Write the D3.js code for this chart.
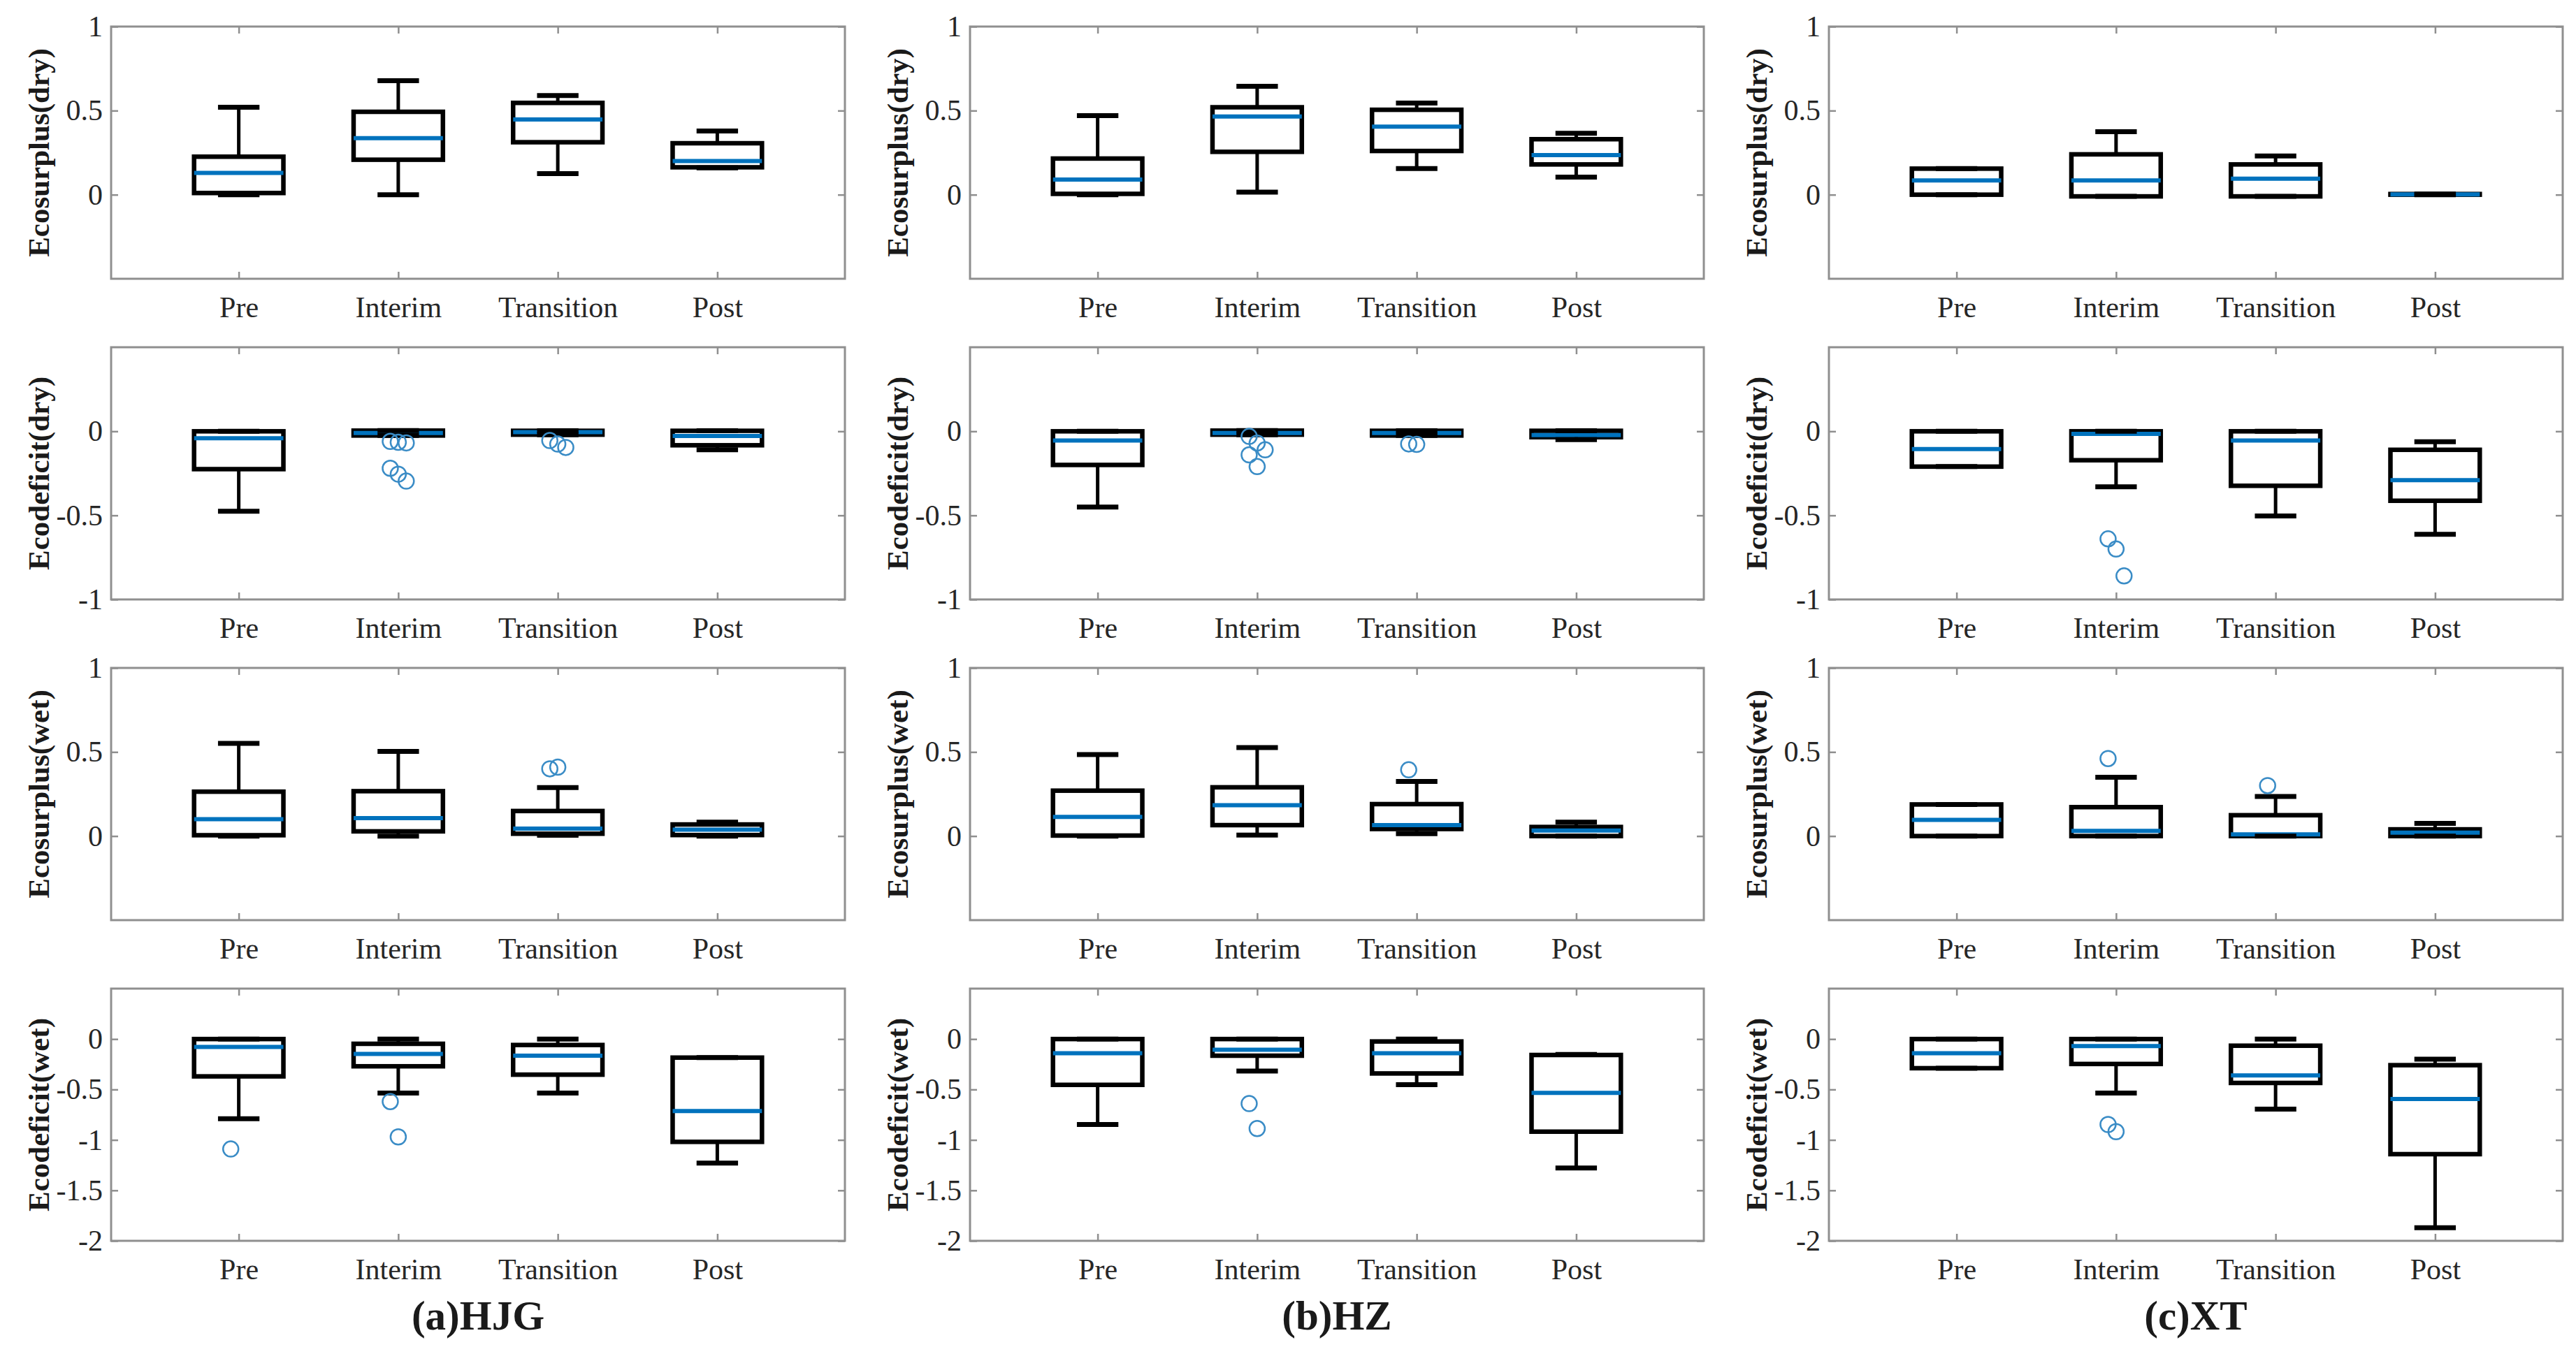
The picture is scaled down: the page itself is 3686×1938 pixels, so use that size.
<!DOCTYPE html>
<html>
<head>
<meta charset="utf-8">
<script src="https://cdn.jsdelivr.net/npm/d3@7"></script>
<style>
  body { margin: 0; background: #fff; }
  text { font-family: "Liberation Serif", "Times New Roman", serif; }
</style>
</head>
<body>
<div id="chart"></div>
<script>
// categories, rows and sites
const categories = ["Pre", "Interim", "Transition", "Post"];
const sites = ["(a)HJG", "(b)HZ", "(c)XT"];
const rowLabels = ["Ecosurplus(dry)", "Ecodeficit(dry)", "Ecosurplus(wet)", "Ecodeficit(wet)"];
const rowDomains = [[-0.5, 1], [-1, 0.5], [-0.5, 1], [-2, 0.5]];
const rowTicks = [[0, 0.5, 1], [-1, -0.5, 0], [0, 0.5, 1], [-2, -1.5, -1, -0.5, 0]];

// box stats per category: [lower whisker, q1, median, q3, upper whisker]
const hjgSurplusDry = [[0, 0.01, 0.13, 0.226, 0.52], [0, 0.208, 0.336, 0.493, 0.678],
                       [0.125, 0.312, 0.447, 0.546, 0.59], [0.16, 0.163, 0.20, 0.306, 0.379]];
const hjgDeficitDry = [[-0.475, -0.225, -0.041, 0, 0], [-0.025, -0.025, -0.01, 0.004, 0.004],
                       [-0.02, -0.02, -0.005, 0.003, 0.003], [-0.11, -0.083, -0.028, 0.003, 0.003]];
const hjgSurplusWet = [[0, 0.005, 0.10, 0.264, 0.551], [0, 0.028, 0.107, 0.267, 0.503],
                       [0.005, 0.014, 0.044, 0.149, 0.288], [0, 0.006, 0.038, 0.069, 0.083]];
const hjgDeficitWet = [[-0.79, -0.37, -0.078, 0, 0], [-0.536, -0.27, -0.148, -0.047, 0],
                       [-0.536, -0.353, -0.165, -0.059, 0], [-1.23, -1.019, -0.713, -0.184, -0.184]];

const hzSurplusDry = [[0, 0.005, 0.09, 0.215, 0.47], [0.015, 0.255, 0.465, 0.52, 0.645],
                      [0.155, 0.26, 0.405, 0.505, 0.545], [0.105, 0.18, 0.235, 0.33, 0.365]];
const hzDeficitDry = [[-0.45, -0.2, -0.055, 0, 0], [-0.02, -0.02, -0.01, 0.004, 0.004],
                      [-0.025, -0.025, -0.01, 0.003, 0.003], [-0.05, -0.035, -0.023, 0.003, 0.003]];
const hzSurplusWet = [[0, 0.003, 0.114, 0.27, 0.485], [0.006, 0.065, 0.183, 0.29, 0.526],
                      [0.014, 0.042, 0.065, 0.19, 0.325], [0, 0, 0.033, 0.054, 0.083]];
const hzDeficitWet = [[-0.847, -0.454, -0.141, 0, 0], [-0.318, -0.165, -0.106, 0, 0],
                      [-0.452, -0.341, -0.141, -0.024, 0], [-1.278, -0.918, -0.534, -0.158, -0.153]];

const xtSurplusDry = [[0, 0, 0.085, 0.155, 0.155], [-0.01, -0.01, 0.085, 0.24, 0.375],
                      [-0.01, -0.01, 0.095, 0.18, 0.23], [0, 0, 0.002, 0.004, 0.004]];
const xtDeficitDry = [[-0.21, -0.21, -0.106, 0, 0], [-0.33, -0.172, -0.015, 0, 0],
                      [-0.503, -0.324, -0.055, 0, 0], [-0.613, -0.413, -0.29, -0.11, -0.062]];
const xtSurplusWet = [[0, 0, 0.096, 0.188, 0.188], [0, 0, 0.031, 0.172, 0.35],
                      [0, 0, 0.01, 0.124, 0.235], [0, 0, 0.02, 0.04, 0.075]];
const xtDeficitWet = [[-0.289, -0.289, -0.141, 0, 0], [-0.536, -0.247, -0.07, 0, 0],
                      [-0.694, -0.435, -0.36, -0.066, 0], [-1.87, -1.141, -0.595, -0.259, -0.2]];

// outliers per category
const hjgSurplusDryOut = [[], [], [], []];
const hjgDeficitDryOut = [[], [-0.06, -0.065, -0.069, -0.22, -0.255, -0.296], [-0.055, -0.076, -0.096], []];
const hjgSurplusWetOut = [[], [], [0.40, 0.41], []];
const hjgDeficitWetOut = [[-1.09], [-0.62, -0.97], [], []];

const hzSurplusDryOut = [[], [], [], []];
const hzDeficitDryOut = [[], [-0.03, -0.07, -0.11, -0.14, -0.21], [-0.075, -0.078], []];
const hzSurplusWetOut = [[], [], [0.394], []];
const hzDeficitWetOut = [[], [-0.64, -0.887], [], []];

const xtSurplusDryOut = [[], [], [], []];
const xtDeficitDryOut = [[], [-0.64, -0.70, -0.86], [], []];
const xtSurplusWetOut = [[], [0.461], [0.30], []];
const xtDeficitWetOut = [[], [-0.847, -0.918], [], []];

const panelStats = [
  [hjgSurplusDry, hjgDeficitDry, hjgSurplusWet, hjgDeficitWet],
  [hzSurplusDry, hzDeficitDry, hzSurplusWet, hzDeficitWet],
  [xtSurplusDry, xtDeficitDry, xtSurplusWet, xtDeficitWet]
];
const panelOutliers = [
  [hjgSurplusDryOut, hjgDeficitDryOut, hjgSurplusWetOut, hjgDeficitWetOut],
  [hzSurplusDryOut, hzDeficitDryOut, hzSurplusWetOut, hzDeficitWetOut],
  [xtSurplusDryOut, xtDeficitDryOut, xtSurplusWetOut, xtDeficitWetOut]
];

// layout
const totW = 3686, totH = 1938;
const panelW = 1050, panelH = 361;
const left0 = 159, colStep = 1229;
const top0 = 38, rowStep = 459;
const boxW = 0.56, capW = 0.26;
const axisGray = "#8f8f8f", medianBlue = "#0072BD", outlierBlue = "#3a8cc6";

const svg = d3.select("#chart").append("svg")
  .attr("width", totW).attr("height", totH)
  .style("background", "#fff");

function drawPanel(g, stats, outliers, row) {
  const x = d3.scaleLinear().domain([0.2, 4.8]).range([0, panelW]);
  const y = d3.scaleLinear().domain(rowDomains[row]).range([panelH, 0]);
  const fmt = d => String(d);

  // inward ticks on all four sides
  const xb = g.append("g").attr("transform", `translate(0,${panelH})`)
    .call(d3.axisBottom(x).tickValues([1, 2, 3, 4]).tickSizeInner(-10).tickSizeOuter(0)
      .tickPadding(25).tickFormat((d, i) => categories[i]));
  const xt = g.append("g")
    .call(d3.axisTop(x).tickValues([1, 2, 3, 4]).tickSizeInner(-10).tickSizeOuter(0).tickFormat(""));
  const yl = g.append("g")
    .call(d3.axisLeft(y).tickValues(rowTicks[row]).tickSizeInner(-10).tickSizeOuter(0)
      .tickPadding(12).tickFormat(fmt));
  const yr = g.append("g").attr("transform", `translate(${panelW},0)`)
    .call(d3.axisRight(y).tickValues(rowTicks[row]).tickSizeInner(-10).tickSizeOuter(0).tickFormat(""));

  [xb, xt, yl, yr].forEach(a => {
    a.select(".domain").remove();
    a.selectAll(".tick line").attr("stroke", axisGray).attr("stroke-width", 2.5);
    a.selectAll(".tick text").attr("fill", "#262626").style("font-size", "42px")
      .style("font-family", "'Liberation Serif', serif");
  });
  xb.selectAll(".tick text").attr("dy", "0.71em");

  g.append("rect").attr("x", 0).attr("y", 0).attr("width", panelW).attr("height", panelH)
    .attr("fill", "none").attr("stroke", axisGray).attr("stroke-width", 3);

  const half = (x(1 + boxW / 2) - x(1));
  const capHalf = (x(1 + capW / 2) - x(1));

  stats.forEach((s, i) => {
    const cx = x(i + 1);
    const [lw, q1, med, q3, uw] = s;
    // box
    g.append("rect")
      .attr("x", cx - half).attr("width", 2 * half)
      .attr("y", y(q3)).attr("height", Math.max(0, y(q1) - y(q3)))
      .attr("fill", "none").attr("stroke", "#000").attr("stroke-width", 6.5);
    // median
    g.append("line")
      .attr("x1", cx - half).attr("x2", cx + half)
      .attr("y1", y(med)).attr("y2", y(med))
      .attr("stroke", medianBlue).attr("stroke-width", 6);
    // whiskers
    g.append("line").attr("x1", cx).attr("x2", cx)
      .attr("y1", y(q3)).attr("y2", y(uw)).attr("stroke", "#000").attr("stroke-width", 5);
    g.append("line").attr("x1", cx).attr("x2", cx)
      .attr("y1", y(q1)).attr("y2", y(lw)).attr("stroke", "#000").attr("stroke-width", 5);
    // caps
    [lw, uw].forEach(v => {
      g.append("line")
        .attr("x1", cx - capHalf).attr("x2", cx + capHalf)
        .attr("y1", y(v)).attr("y2", y(v))
        .attr("stroke", "#000").attr("stroke-width", 7);
    });
    // outliers
    outliers[i].forEach((v, k) => {
      const jitter = (k % 3 - 1) * 0.05;
      g.append("circle")
        .attr("cx", x(i + 1 + jitter)).attr("cy", y(v)).attr("r", 11)
        .attr("fill", "none").attr("stroke", outlierBlue).attr("stroke-width", 2.5);
    });
  });

  // y label
  g.append("text")
    .attr("transform", `translate(-104,${panelH / 2}) rotate(-90)`)
    .attr("text-anchor", "middle").attr("dy", "0.35em")
    .style("font-size", "43px").style("font-weight", "bold")
    .attr("fill", "#1a1a1a")
    .text(rowLabels[row]);
}

sites.forEach((site, c) => {
  rowLabels.forEach((lab, r) => {
    const g = svg.append("g")
      .attr("transform", `translate(${left0 + c * colStep},${top0 + r * rowStep})`);
    drawPanel(g, panelStats[c][r], panelOutliers[c][r], r);
  });
  svg.append("text")
    .attr("x", left0 + c * colStep + panelW / 2).attr("y", 1882)
    .attr("text-anchor", "middle").attr("dy", "0.35em")
    .style("font-size", "59px").style("font-weight", "bold")
    .attr("fill", "#1a1a1a")
    .text(site);
});
</script>
</body>
</html>
